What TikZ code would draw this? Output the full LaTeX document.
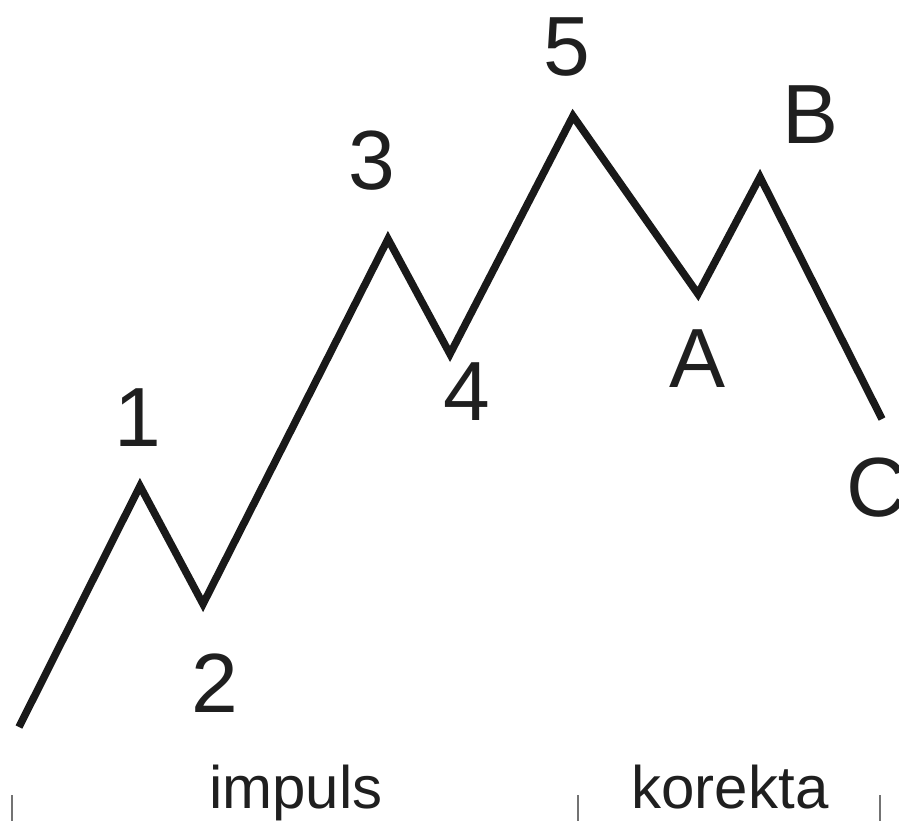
\documentclass[tikz,border=0pt]{standalone}
\usepackage{fontspec}
\setmainfont{Liberation Sans}
\tikzset{
  wave/.style={line width=7.5pt, line join=miter, miter limit=10, color=black!90},
  lbl/.style={inner sep=0pt, font=\fontsize{84}{84}\selectfont, text=black!88},
  phase/.style={inner sep=0pt, font=\fontsize{60}{60}\selectfont, text=black!88, anchor=base},
  tick/.style={line width=1.2pt, color=black!55}
}
\begin{document}
\begin{tikzpicture}[x=1pt,y=-1pt]
\useasboundingbox (0,0) rectangle (899,821);
\coordinate (s) at (19,727);
\coordinate (w1) at (140,486);
\coordinate (w2) at (203,604);
\coordinate (w3) at (388,239);
\coordinate (w4) at (450,354);
\coordinate (w5) at (573,116);
\coordinate (wa) at (698,294);
\coordinate (wb) at (760,177);
\coordinate (wc) at (882,419);
\draw[wave] (s) -- (w1) -- (w2) -- (w3) -- (w4) -- (w5) -- (wa) -- (wb) -- (wc);
\node[lbl] (l1) at (138,418) {1};
\node[lbl] (l2) at (215,683) {2};
\node[lbl] (l3) at (372,161) {3};
\node[lbl] (l4) at (467,392) {4};
\node[lbl] (l5) at (567,47) {5};
\node[lbl] (la) at (698,359) {A};
\node[lbl] (lb) at (811,115) {B};
\node[lbl] (lc) at (877,488) {C};
\node[phase] (imp) at (296,808) {impuls};
\node[phase] (kor) at (730,808) {korekta};
\coordinate (t1a) at (12,795); \coordinate (t1b) at (12,821);
\coordinate (t2a) at (578,795); \coordinate (t2b) at (578,821);
\coordinate (t3a) at (880,795); \coordinate (t3b) at (880,821);
\draw[tick] (t1a) -- (t1b);
\draw[tick] (t2a) -- (t2b);
\draw[tick] (t3a) -- (t3b);
\end{tikzpicture}
\end{document}
